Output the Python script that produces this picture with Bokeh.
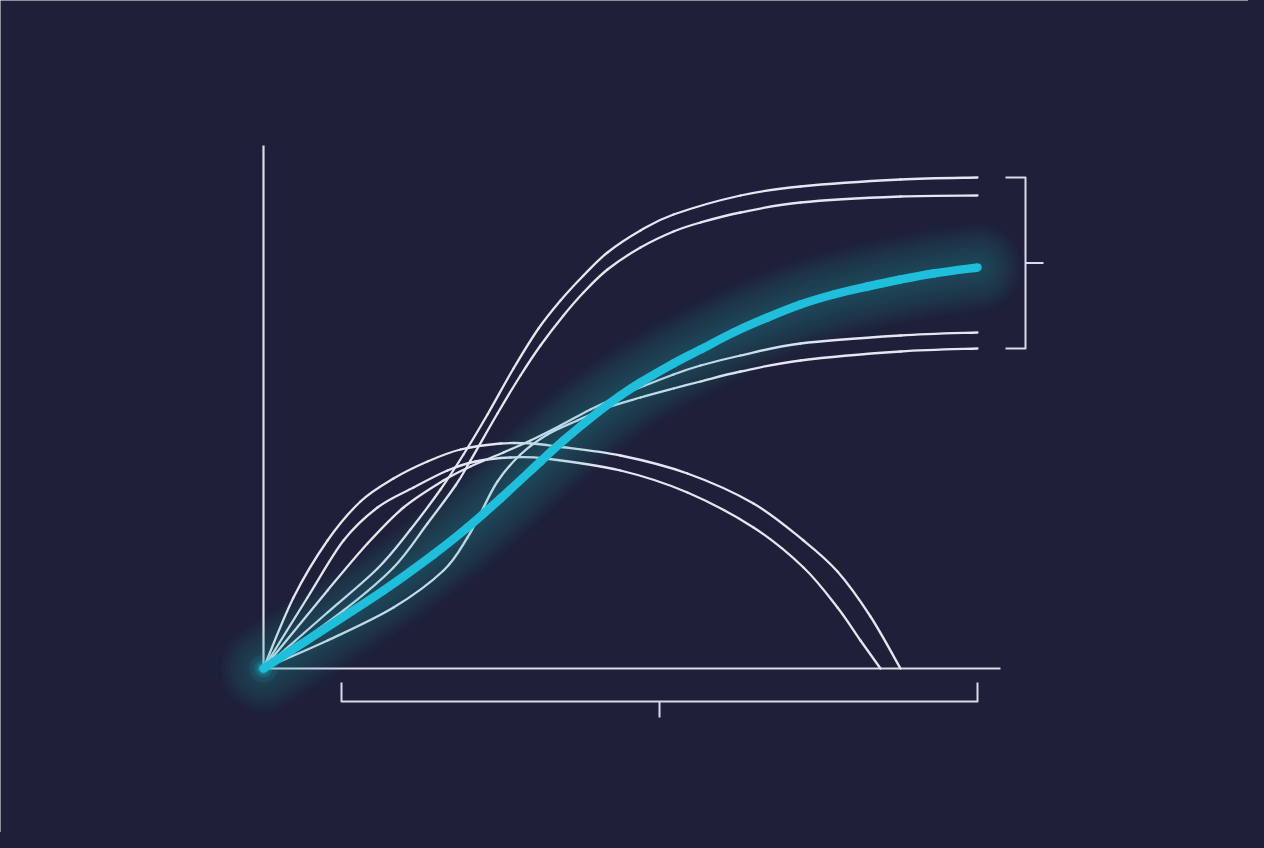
import numpy as np
from bokeh.plotting import figure
from bokeh.models import Range1d, ColumnDataSource, InlineStyleSheet
from bokeh.embed import file_html
from bokeh.resources import INLINE

BG = "#1e1f39"
LINE_WHITE = "#e6e6f2"
AXIS_WHITE = "#dadae8"
CYAN = "#1fbfdb"

# ---------------- data (x: time units, y: value units) ----------------
highlight_x = [0, 54, 120, 170, 204, 237, 277, 300, 334, 357, 377, 410, 437, 470, 504, 537, 570, 604, 637, 670, 714]
highlight_y = [0, 35, 78, 114, 141, 170, 207, 228, 256, 273, 286, 305, 319, 336, 351, 364, 374, 382, 389, 395, 401]

upper1_x = [0, 64, 114, 147, 177, 200, 224, 250, 275, 297, 320, 344, 377, 410, 477, 537, 637, 714]
upper1_y = [0, 56, 100, 139, 179, 214, 254, 300, 340, 368, 393, 416, 438, 454, 473, 482, 489, 491]

upper2_x = [0, 80, 130, 164, 192, 207, 234, 257, 277, 300, 320, 344, 377, 410, 437, 477, 537, 637, 714]
upper2_y = [0, 58, 101, 145, 183, 208, 255, 293, 323, 353, 376, 399, 421, 437, 446, 456, 466, 472, 473]

lower1_x = [0, 64, 104, 140, 180, 207, 240, 267, 297, 327, 357, 410, 437, 477, 537, 637, 714]
lower1_y = [0, 78, 125, 161, 188, 202, 216, 228, 243, 259, 273, 294, 303, 313, 325, 333, 336]

lower2_x = [0, 64, 130, 180, 204, 217, 234, 257, 284, 314, 344, 377, 410, 437, 477, 537, 637, 714]
lower2_y = [0, 28, 61, 98, 131, 155, 187, 214, 234, 248, 261, 271, 280, 287, 297, 308, 317, 320]

dome1_x = [0, 30, 64, 97, 130, 164, 197, 237, 267, 294, 357, 424, 490, 540, 574, 607, 637]
dome1_y = [0, 71, 128, 167, 190, 207, 219, 225, 225, 222, 213, 195, 165, 128, 97, 52, 0]

dome2_x = [0, 44, 80, 114, 150, 184, 212, 247, 282, 357, 424, 490, 540, 574, 597, 617]
dome2_y = [0, 71, 128, 161, 181, 198, 207, 211, 210, 198, 176, 141, 101, 61, 28, 0]

bracket_x_start = 78          # start of the bottom span bracket (x units)

white_series = [
    (upper1_x, upper1_y),
    (upper2_x, upper2_y),
    (lower1_x, lower1_y),
    (lower2_x, lower2_y),
    (dome1_x, dome1_y),
    (dome2_x, dome2_y),
]

# ---------------- layout constants ----------------
AXIS_X_END = 737
AXIS_Y_END = 523


def smooth(xs, ys):
    """Catmull-Rom through the data points, expressed as cubic Bezier segments."""
    x = np.asarray(xs, float)
    y = np.asarray(ys, float)
    n = len(x)
    px = np.concatenate([[x[0]], x, [x[-1]]])
    py = np.concatenate([[y[0]], y, [y[-1]]])
    cx0 = x[:-1] + (px[2:n + 1] - px[0:n - 1]) / 6.0
    cy0 = y[:-1] + (py[2:n + 1] - py[0:n - 1]) / 6.0
    cx1 = x[1:] - (px[3:n + 2] - px[1:n]) / 6.0
    cy1 = y[1:] - (py[3:n + 2] - py[1:n]) / 6.0
    return ColumnDataSource(dict(x0=x[:-1], y0=y[:-1], x1=x[1:], y1=y[1:],
                                 cx0=cx0, cy0=cy0, cx1=cx1, cy1=cy1))


p = figure(width=1248, height=832,
           x_range=Range1d(-263, 985), y_range=Range1d(-164, 668),
           x_axis_type=None, y_axis_type=None,
           output_backend="svg", toolbar_location=None, min_border=0,
           background_fill_color=BG, border_fill_color=BG,
           outline_line_color=None)
p.stylesheets = [InlineStyleSheet(css=":host { box-shadow: 0 0 0 40px %s; }" % BG)]

# axes
p.line([0, 0], [AXIS_Y_END, 0], line_color=AXIS_WHITE, line_width=2.2)
p.line([0, AXIS_X_END], [0, 0], line_color=AXIS_WHITE, line_width=2.2)

# white series
for sx, sy in white_series:
    p.bezier(x0="x0", y0="y0", x1="x1", y1="y1", cx0="cx0", cy0="cy0", cx1="cx1", cy1="cy1",
             source=smooth(sx, sy), line_color=LINE_WHITE, line_width=2.3, line_cap="round")

# soft glow for highlight series (single path per layer, so no seams)
for w in np.linspace(88, 12, 16):
    p.line(highlight_x, highlight_y, line_color=CYAN, line_alpha=0.02, line_width=w,
           line_cap="round", line_join="round")

# origin glow
for r, a in [(14, 0.10), (9, 0.16), (6, 0.3)]:
    p.circle(x=[highlight_x[0]], y=[highlight_y[0]], radius=r, radius_units="screen",
             fill_color=CYAN, fill_alpha=a, line_color=None)

# highlight core
hsrc = smooth(highlight_x, highlight_y)
p.bezier(x0="x0", y0="y0", x1="x1", y1="y1", cx0="cx0", cy0="cy0", cx1="cx1", cy1="cy1",
         source=hsrc, line_color=CYAN, line_width=8.5, line_cap="round")

# bottom span bracket
bx0 = bracket_x_start
bx1 = max(highlight_x)
by, btop, bdrop = -33, -14, -49
p.line([bx0, bx0, bx1, bx1], [btop, by, by, btop], line_color=AXIS_WHITE, line_width=2,
       line_join="round")
p.line([(bx0 + bx1) / 2] * 2, [by, bdrop], line_color=AXIS_WHITE, line_width=2)

# right range bracket over the series end values
ends = [s[1][-1] for s in white_series[:4]] + [highlight_y[-1]]
ry0, ry1 = min(ends), max(ends)
rx, rtick, rout = 762, 742, 780
p.line([rtick, rx, rx, rtick], [ry1, ry1, ry0, ry0], line_color=AXIS_WHITE, line_width=2,
       line_join="round")
p.line([rx, rout], [(ry0 + ry1) / 2] * 2, line_color=AXIS_WHITE, line_width=2)

open("out.html", "w").write(file_html(p, INLINE))
